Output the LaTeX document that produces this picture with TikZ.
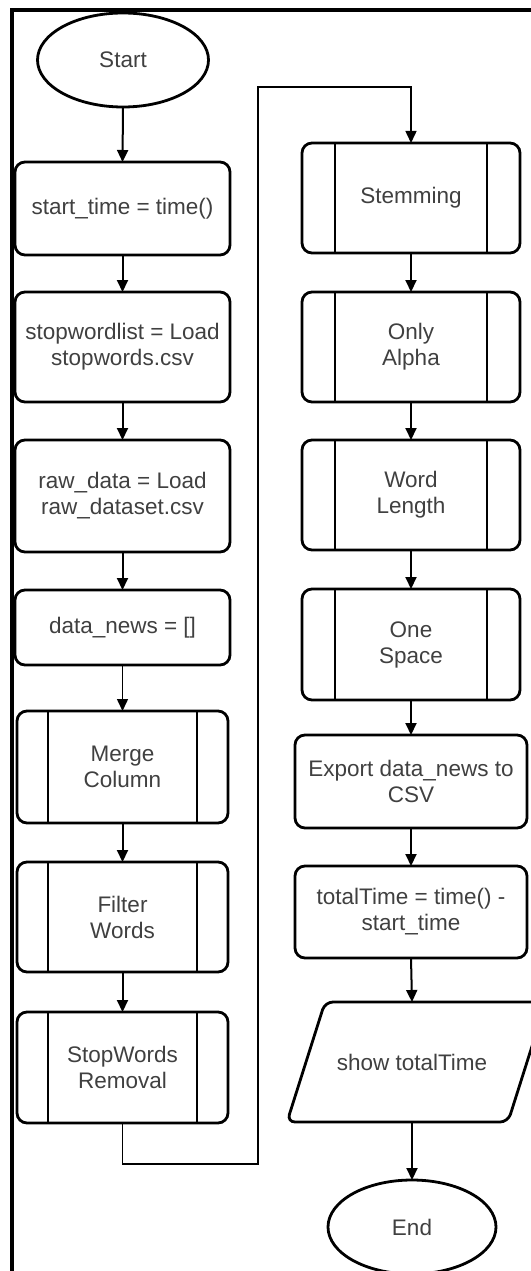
\documentclass[tikz,border=0pt]{standalone}
\usepackage{fontspec}
\setmainfont{Liberation Sans}
\usetikzlibrary{arrows.meta,shapes.geometric}
\tikzset{
  x=1pt, y=-1pt,
  txt/.style={text=black!75, font=\fontsize{22.5}{26}\selectfont, align=center},
  proc/.style={txt, draw=black, line width=2.8pt, rounded corners=10pt,
    rectangle, inner sep=0pt, outer sep=0pt},
  subproc/.style={proc},
  term/.style={txt, draw=black, line width=2.8pt, ellipse, inner sep=0pt, outer sep=0pt},
  flow/.style={line width=2pt, -{Triangle[length=12pt,width=11pt]}},
  thinflow/.style={line width=1.5pt, -{Triangle[length=12pt,width=11pt]}},
  frame/.style={line width=4pt}
}
% inner bars of a predefined-process box
\newcommand{\subbars}[2]{%
  \draw[line width=2.8pt] ([xshift=#2]#1.north west) -- ([xshift=#2]#1.south west);
  \draw[line width=2.8pt] ([xshift=-#2]#1.north east) -- ([xshift=-#2]#1.south east);}
\begin{document}
\begin{tikzpicture}
\useasboundingbox (0,0) rectangle (530,1271);
\fill[white] (0,0) rectangle (530,1271);

% outer frame
\draw[frame] (12,1275) -- (12,10) -- (535,10);

% left column
\node[term, minimum width=171, minimum height=94] (start) at (123,60) {Start};
\node[proc, minimum width=215, minimum height=93] (st) at (122.5,208.5) {start\_time = time()};
\node[proc, minimum width=215, minimum height=110] (swl) at (122.5,347) {stopwordlist = Load\\stopwords.csv};
\node[proc, minimum width=215, minimum height=112] (raw) at (122.5,496) {raw\_data = Load\\raw\_dataset.csv};
\node[proc, minimum width=215, minimum height=75] (dn) at (122.5,627.5) {data\_news = []};
\node[subproc, minimum width=211, minimum height=112] (merge) at (122.5,767) {Merge\\Column};
\node[subproc, minimum width=211, minimum height=110] (filter) at (122.5,917) {Filter\\Words};
\node[subproc, minimum width=211, minimum height=111] (swr) at (122.5,1067.5) {StopWords\\Removal};
\subbars{merge}{31pt}
\subbars{filter}{31pt}
\subbars{swr}{31pt}

% right column
\node[subproc, minimum width=218, minimum height=110] (stem) at (411,198) {Stemming};
\node[subproc, minimum width=218, minimum height=110] (alpha) at (411,347) {Only\\Alpha};
\node[subproc, minimum width=218, minimum height=110] (wlen) at (411,495) {Word\\Length};
\node[subproc, minimum width=218, minimum height=111] (space) at (411,644.5) {One\\Space};
\subbars{stem}{33pt}
\subbars{alpha}{33pt}
\subbars{wlen}{33pt}
\subbars{space}{33pt}
\node[proc, minimum width=232, minimum height=93] (export) at (411,781.5) {Export data\_news to\\CSV};
\node[proc, minimum width=232, minimum height=92] (total) at (411,912) {totalTime = time() -\\start\_time};
\draw[line width=2.8pt, rounded corners=8pt] (287,1122) -- (325,1002) -- (546,1002) -- (508,1122) -- cycle;
\node[txt, minimum height=120, inner sep=0pt, outer sep=0pt] (show) at (412,1062) {show totalTime};
\node[term, minimum width=168, minimum height=94] (end) at (412,1227) {End};

% connectors
\draw[flow] (start.south) -- (st.north);
\draw[flow] (st.south) -- (swl.north);
\draw[flow] (swl.south) -- (raw.north);
\draw[flow] (raw.south) -- (dn.north);
\draw[thinflow] (dn.south) -- (merge.north);
\draw[flow] (merge.south) -- (filter.north);
\draw[flow] (filter.south) -- (swr.north);

\coordinate (lowturn) at (258,1164);
\coordinate (highturn) at (258,87);
\draw[thinflow] (swr.south) |- (lowturn) -- (highturn) -| (stem.north);

\draw[flow] (stem.south) -- (alpha.north);
\draw[flow] (alpha.south) -- (wlen.north);
\draw[flow] (wlen.south) -- (space.north);
\draw[flow] (space.south) -- (export.north);
\draw[flow] (export.south) -- (total.north);
\draw[flow] (total.south) -- (show.north);
\draw[flow] (show.south) -- (end.north);
\end{tikzpicture}
\end{document}
